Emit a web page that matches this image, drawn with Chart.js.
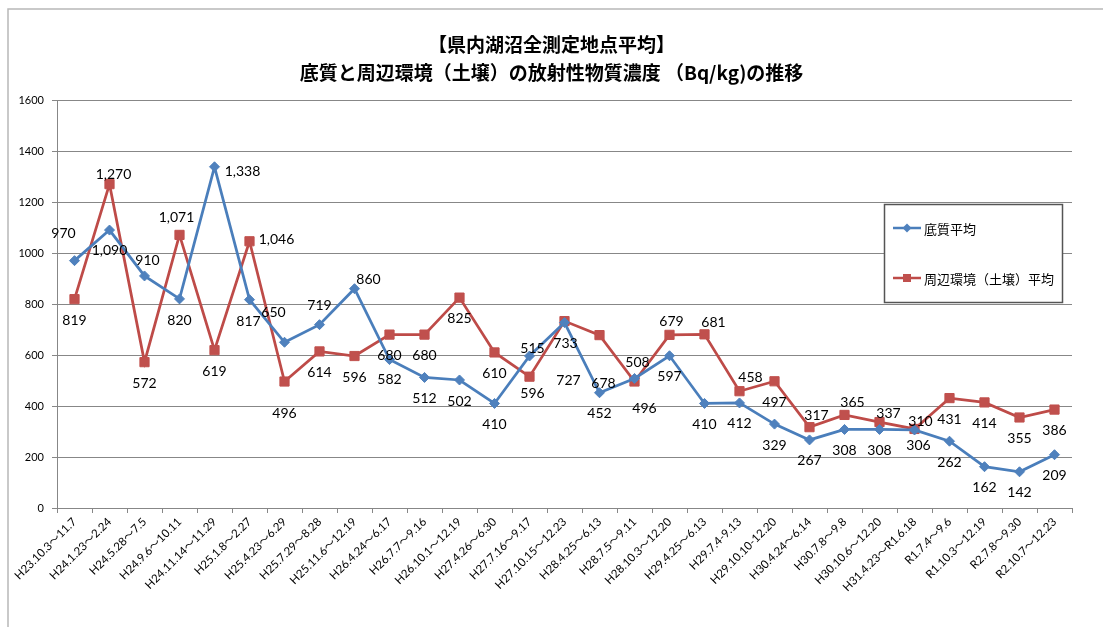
<!DOCTYPE html>
<html lang="ja">
<head>
<meta charset="utf-8">
<title>県内湖沼全測定地点平均</title>
<script src="https://cdn.jsdelivr.net/npm/chart.js@4.4.1/dist/chart.umd.min.js"></script>
<style>
  html, body { margin: 0; padding: 0; background: #fff; }
  #wrap { width: 1103px; height: 627px; }
</style>
</head>
<body>
<div id="wrap"><canvas id="c" width="1103" height="627"></canvas></div>
<script>
// ---- data ----
const titleLines = ['【県内湖沼全測定地点平均】', '底質と周辺環境（土壌）の放射性物質濃度 （Bq/kg)の推移'];

const periods = [
  'H23.10.3～11.7', 'H24.1.23～2.24', 'H24.5.28～7.5', 'H24.9.6～10.11', 'H24.11.14～11.29',
  'H25.1.8～2.27', 'H25.4.23～6.29', 'H25.7.29～8.28', 'H25.11.6～12.19', 'H26.4.24～6.17',
  'H26.7.7～9.16', 'H26.10.1～12.19', 'H27.4.26～6.30', 'H27.7.16～9.17', 'H27.10.15～12.23',
  'H28.4.25～6.13', 'H28.7.5～9.11', 'H28.10.3～12.20', 'H29.4.25～6.13', 'H29.7.4-9.13',
  'H29.10.10-12.20', 'H30.4.24～6.14', 'H30.7.8～9.8', 'H30.10.6～12.20', 'H31.4.23～R1.6.18',
  'R1.7.4～9.6', 'R1.10.3～12.19', 'R2.7.8～9.30', 'R2.10.7～12.23'
];

const sedimentAvg = [970, 1090, 910, 820, 1338, 817, 650, 719, 860, 582,
                     512, 502, 410, 596, 727, 452, 508, 597, 410, 412,
                     329, 267, 308, 308, 306, 262, 162, 142, 209];

const soilAvg = [819, 1270, 572, 1071, 619, 1046, 496, 614, 596, 680,
                 680, 825, 610, 515, 733, 678, 496, 679, 681, 458,
                 497, 317, 365, 337, 310, 431, 414, 355, 386];

const seriesNames = ['底質平均', '周辺環境（土壌）平均'];
const yTicks = [0, 200, 400, 600, 800, 1000, 1200, 1400, 1600];

// ---- value label placement (pixel offsets from each marker; default is just below) ----
const DEF = [0, 21];
const sedimentLabelShift = {
  0: [-11, -27], 1: [0, 20], 2: [3, -15], 3: [0, 22], 4: [28, 5], 5: [-1, 22],
  6: [-11, -30], 7: [0, -19], 8: [14, -9], 9: [0, 20], 13: [3, 37], 14: [4, 58],
  16: [3, -16], 24: [4, 16]
};
const soilLabelShift = {
  1: [4, -10], 3: [-3, -17], 5: [27, -2], 6: [0, 32], 13: [3, -28], 14: [1, 22],
  15: [4, 48], 16: [10, 27], 17: [2, -13], 18: [9, -12], 19: [11, -14],
  21: [7, -12], 22: [8, -12], 23: [9, -9], 24: [6, -7]
};

// ---- styles ----
const BLUE_LINE = '#4a7ebb', BLUE_MARK = '#4f81bd';
const RED_LINE = '#be4b48', RED_MARK = '#c0504d';
const GRID = '#878787';
const LATIN = 'Lato, "Noto Sans CJK JP", sans-serif';

// frame + two-line heading
const frameAndTitle = {
  id: 'frameAndTitle',
  beforeDraw(chart) {
    const ctx = chart.ctx;
    ctx.save();
    ctx.fillStyle = '#fff';
    ctx.fillRect(0, 0, chart.width, chart.height);
    ctx.strokeStyle = '#b8b8b8';
    ctx.lineWidth = 1.5;
    ctx.beginPath();
    ctx.moveTo(8, chart.height);
    ctx.lineTo(8, 9);
    ctx.lineTo(chart.width, 9);
    ctx.stroke();
    ctx.fillStyle = '#000';
    ctx.font = 'bold 19px "Noto Sans CJK JP", sans-serif';
    ctx.textAlign = 'center';
    ctx.textBaseline = 'middle';
    titleLines.forEach((t, i) => ctx.fillText(t, chart.width / 2, 45 + i * 28));
    ctx.restore();
  }
};

// numeric value labels next to every marker
const valueLabels = {
  id: 'valueLabels',
  afterDatasetsDraw(chart) {
    const ctx = chart.ctx;
    ctx.save();
    ctx.font = '14px ' + LATIN;
    ctx.fillStyle = '#000';
    ctx.textAlign = 'center';
    ctx.textBaseline = 'middle';
    chart.data.datasets.forEach((ds, di) => {
      const meta = chart.getDatasetMeta(di);
      const shifts = ds.labelShift || {};
      meta.data.forEach((pt, i) => {
        const [dx, dy] = shifts[i] || DEF;
        ctx.fillText(ds.data[i].toLocaleString('en-US'), pt.x + dx, pt.y + dy);
      });
    });
    ctx.restore();
  }
};

// boxed legend inside the plot
const boxLegend = {
  id: 'boxLegend',
  afterDraw(chart) {
    const ctx = chart.ctx;
    const bx = 884, by = 204, bw = 178, bh = 98;
    ctx.save();
    ctx.fillStyle = '#fff';
    ctx.fillRect(bx, by, bw, bh);
    ctx.strokeStyle = '#555';
    ctx.lineWidth = 1.5;
    ctx.strokeRect(bx + 0.5, by + 0.5, bw, bh);
    const rows = [228, 278];
    chart.data.datasets.forEach((ds, di) => {
      const y = rows[di];
      ctx.strokeStyle = ds.borderColor;
      ctx.lineWidth = 2.5;
      ctx.beginPath();
      ctx.moveTo(893, y);
      ctx.lineTo(921, y);
      ctx.stroke();
      ctx.fillStyle = ds.pointBackgroundColor;
      ctx.beginPath();
      if (ds.pointStyle === 'rectRot') {
        ctx.moveTo(907, y - 4.5); ctx.lineTo(911.5, y); ctx.lineTo(907, y + 4.5); ctx.lineTo(902.5, y);
      } else {
        ctx.rect(903, y - 4, 8, 8);
      }
      ctx.closePath();
      ctx.fill();
      ctx.fillStyle = '#000';
      ctx.font = '13px "Noto Sans CJK JP", sans-serif';
      ctx.textAlign = 'left';
      ctx.textBaseline = 'middle';
      ctx.fillText(ds.label, 924, y + 1);
    });
    ctx.restore();
  }
};

new Chart(document.getElementById('c'), {
  type: 'line',
  data: {
    labels: periods,
    datasets: [
      {
        label: seriesNames[0],
        data: sedimentAvg,
        labelShift: sedimentLabelShift,
        borderColor: BLUE_LINE,
        backgroundColor: BLUE_MARK,
        borderWidth: 2.75,
        pointStyle: 'rectRot',
        pointRadius: 5,
        pointBorderWidth: 1,
        pointBackgroundColor: BLUE_MARK,
        pointBorderColor: BLUE_MARK,
        tension: 0,
        fill: false
      },
      {
        label: seriesNames[1],
        data: soilAvg,
        labelShift: soilLabelShift,
        borderColor: RED_LINE,
        backgroundColor: RED_MARK,
        borderWidth: 2.75,
        pointStyle: 'rect',
        pointRadius: 6.5,
        pointBorderWidth: 1,
        pointBackgroundColor: RED_MARK,
        pointBorderColor: RED_MARK,
        tension: 0,
        fill: false
      }
    ]
  },
  options: {
    responsive: false,
    animation: false,
    devicePixelRatio: 1,
    layout: { padding: { top: 100, right: 31, left: 0, bottom: 0 } },
    plugins: {
      legend: { display: false },
      title: { display: false },
      tooltip: { enabled: false }
    },
    scales: {
      x: {
        type: 'category',
        offset: true,
        grid: { display: true, offset: true, drawOnChartArea: false, tickLength: 5, color: GRID },
        border: { display: true, color: GRID, width: 1 },
        ticks: {
          autoSkip: false,
          minRotation: 45,
          maxRotation: 45,
          padding: 2,
          color: '#000',
          font: { family: LATIN, size: 11.5 }
        },
        afterFit(scale) { scale.height = 119; }
      },
      y: {
        min: 0,
        max: 1600,
        afterBuildTicks(scale) { scale.ticks = yTicks.map(v => ({ value: v })); },
        grid: { color: GRID, lineWidth: 1, tickLength: 5 },
        border: { display: true, color: GRID, width: 1 },
        ticks: {
          padding: 8,
          color: '#000',
          font: { family: LATIN, size: 11 },
          callback: (v) => String(v)
        },
        afterFit(scale) { scale.width = 57; }
      }
    }
  },
  plugins: [frameAndTitle, valueLabels, boxLegend]
});
</script>
</body>
</html>
